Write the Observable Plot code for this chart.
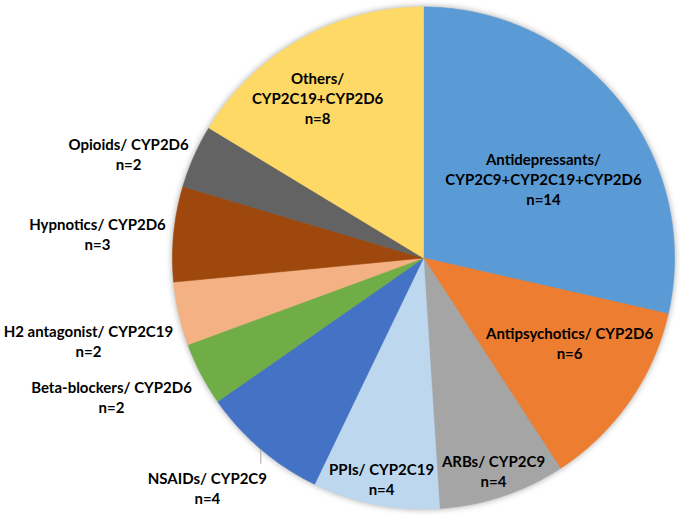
<!DOCTYPE html>
<html>
<head>
<meta charset="utf-8">
<script src="https://cdn.jsdelivr.net/npm/d3@7"></script>
<script src="https://cdn.jsdelivr.net/npm/@observablehq/plot@0.6"></script>
<style>
  html, body { margin: 0; padding: 0; background: #fff; }
  #chart svg { display: block; }
</style>
</head>
<body>
<div id="chart"></div>
<script>
// ---- data ----
const categories = ["Antidepressants", "Antipsychotics", "ARBs", "PPIs", "NSAIDs",
  "Beta-blockers", "H2 antagonist", "Hypnotics", "Opioids", "Others"];
const enzymes = ["CYP2C9+CYP2C19+CYP2D6", "CYP2D6", "CYP2C9", "CYP2C19", "CYP2C9",
  "CYP2D6", "CYP2C19", "CYP2D6", "CYP2D6", "CYP2C19+CYP2D6"];
const counts = [14, 6, 4, 4, 4, 2, 2, 3, 2, 8];

// ---- styles / layout ----
const colors = ["#5B9BD5", "#ED7D31", "#A5A5A5", "#BDD7EE", "#4472C4",
  "#70AD47", "#F4B183", "#9E480E", "#636363", "#FFD966"];
const splitEnzymeLine = [true, false, false, false, false, false, false, false, false, true];
// label anchors, in units of the pie radius (x right, y up, from pie centre)
const labelX = [0.478, 0.582, 0.279, -0.167, -0.861, -1.243, -1.335, -1.299, -1.175, -0.422];
const labelY = [0.317, -0.337, -0.847, -0.878, -0.914, -0.552, -0.329, 0.098, 0.416, 0.639];
const withLeader = ["NSAIDs"];

const W = 680, H = 516, cx = 423, cy = 257.5, R = 251;

const arcs = d3.pie().sort(null).value(d => d)(counts);

const slicePts = [];
arcs.forEach((a, i) => {
  const cat = categories[i];
  slicePts.push({cat, x: 0, y: 0});
  const n = Math.max(2, Math.ceil((a.endAngle - a.startAngle) / (Math.PI / 360)));
  for (let k = 0; k <= n; k++) {
    const t = a.startAngle + (a.endAngle - a.startAngle) * k / n;
    slicePts.push({cat, x: Math.sin(t), y: Math.cos(t)});
  }
  slicePts.push({cat, x: 0, y: 0});
});

const labels = categories.map((c, i) => ({
  text: c + "/" + (splitEnzymeLine[i] ? "\n" : " ") + enzymes[i] + "\nn=" + counts[i],
  x: labelX[i], y: labelY[i]
}));

const leaders = [];
arcs.forEach((a, i) => {
  if (!withLeader.includes(categories[i])) return;
  const m = (a.startAngle + a.endAngle) / 2;
  leaders.push({x1: Math.sin(m), y1: Math.cos(m), x2: Math.sin(m), y2: labelY[i] + 0.095});
});

const chart = Plot.plot({
  width: W, height: H, margin: 0,
  x: {domain: [-cx / R, (W - cx) / R], axis: null},
  y: {domain: [-(H - cy) / R, cy / R], axis: null},
  color: {domain: categories, range: colors},
  style: {fontFamily: "Lato, 'Open Sans', sans-serif", background: "#fff"},
  marks: [
    Plot.line(slicePts, {x: "x", y: "y", z: "cat", fill: "cat", stroke: "cat", strokeWidth: 0.6, curve: "linear"}),
    Plot.link(leaders, {x1: "x1", y1: "y1", x2: "x2", y2: "y2", stroke: "#A6A6A6", strokeWidth: 1}),
    Plot.text(labels, {x: "x", y: "y", text: "text", fill: "#000", fontSize: 15, fontWeight: "bold",
      lineAnchor: "middle", lineHeight: 1.33, textAnchor: "middle"})
  ]
});

const lineGroup = chart.querySelector('g[aria-label="line"]');
if (lineGroup) lineGroup.style.filter = "drop-shadow(0px 0px 3px rgba(0,0,0,0.35))";

document.getElementById("chart").appendChild(chart);
</script>
</body>
</html>
